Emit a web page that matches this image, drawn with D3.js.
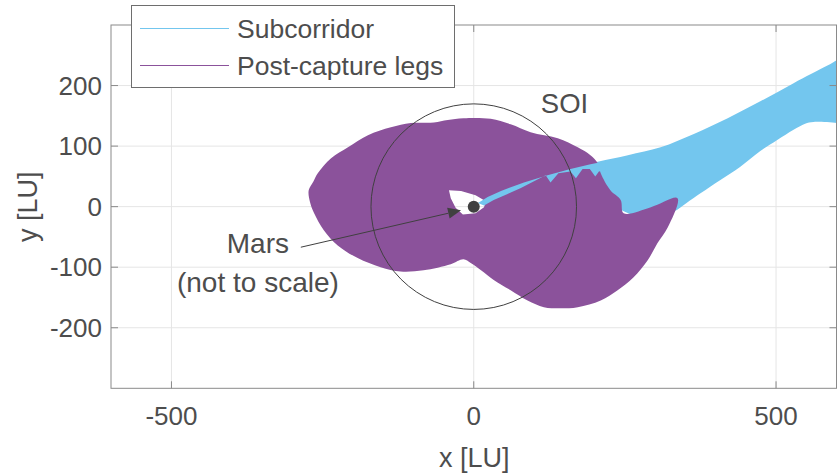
<!DOCTYPE html>
<html>
<head>
<meta charset="utf-8">
<script src="https://cdn.jsdelivr.net/npm/d3@7"></script>
<style>
  html, body { margin: 0; padding: 0; background: #fff; }
  svg { display: block; font-family: "Liberation Sans", Arial, Helvetica, sans-serif; }
</style>
</head>
<body>
<svg id="chart" width="837" height="476"></svg>
<script>
// Axis limits and tick values [LU]
const xDomain = [-600, 600];
const yDomain = [-300, 300];
const xTicks = [-500, 0, 500];
const yTicks = [-200, -100, 0, 100, 200];

// Sphere of influence radius and planet position [LU]
const soiRadius = 170;
const marsCenter = [0, 0];

// Outer envelope of the subcorridor band (upper edge outward, lower edge back)
const corridorBand = [
  [144, 57], [205, 74], [255, 85], [309, 98], [364, 120], [420, 146], [474, 174],
  [529, 204], [585, 233], [607, 245], [612, 245],
  [612, 138], [607, 138], [562, 140], [548, 137], [529, 127], [502, 110], [474, 92], [441, 66],
  [408, 44], [375, 22], [352, 6], [331, -8], [300, -16], [270, -16], [210, 11], [144, 36]
];

// Inner subcorridor strip leaving the planet
const corridorStrip = [
  [7, 6], [23, 16], [45, 26], [83, 40], [122, 52], [160, 62], [193, 70], [218, 75],
  [218, 60], [207, 58], [201, 50], [192, 62], [180, 62], [169, 47], [160, 58],
  [140, 55], [127, 40], [119, 52], [78, 31], [56, 21], [33, 11], [17, 2]
];

// Envelope of the post-capture legs
const legsOutline = [
  [-273, 27], [-265, 42], [-258, 55], [-236, 80], [-208, 98], [-175, 118], [-137, 131],
  [-104, 138], [-66, 139], [-43, 143], [-17, 146], [28, 145], [61, 136], [94, 123],
  [139, 113], [172, 98], [193, 85], [205, 72], [210, 55], [226, 27], [243, 11],
  [248, -11], [293, -1], [337, 14], [321, -34], [304, -60], [288, -88], [264, -117],
  [238, -138], [210, -155], [172, -166], [144, -168], [116, -166], [89, -155],
  [61, -138], [33, -121], [12, -105], [-5, -93], [-17, -87], [-38, -95], [-83, -105],
  [-121, -107], [-154, -100], [-192, -85], [-225, -64], [-248, -39], [-264, -11], [-271, 8]
];

// Empty region around the planet not reached by the legs
const legsHole = [
  [-41, 27], [-21, 26], [3, 19], [20, 9], [17, -1], [3, -11], [-18, -13], [-30, -2], [-38, 14]
];

// Annotation anchors [LU]
const marsArrow = [[-286, -67], [-21, -6]];
const marsLabel = { x: -357, lines: ["Mars", "(not to scale)"], baselines: [-77, -141] };
const soiLabel = { x: 111, y: 155, text: "SOI" };

// Legend entries
const legendNames = ["Subcorridor", "Post-capture legs"];
const legendColors = ["#73c6ee", "#8b529b"];

const colCorridor = "#73c6ee";
const colLegs = "#8b529b";
const colInk = "#404040";
const colText = "#4d4d4d";

const svg = d3.select("#chart");
const x = d3.scaleLinear().domain(xDomain).range([111, 836.5]);
const y = d3.scaleLinear().domain(yDomain).range([388.3, 25]);

const x0 = x.range()[0], x1 = x.range()[1];
const yb = y.range()[0], yt = y.range()[1];

svg.append("defs").append("clipPath").attr("id", "plotClip")
  .append("rect").attr("x", x0).attr("y", yt).attr("width", x1 - x0).attr("height", yb - yt);

// grid
const grid = svg.append("g").attr("stroke", "#e5e5e5").attr("stroke-width", 1);
grid.selectAll(".gx").data(xTicks).join("line")
  .attr("x1", d => x(d)).attr("x2", d => x(d)).attr("y1", yt).attr("y2", yb);
grid.selectAll(".gy").data(yTicks).join("line")
  .attr("x1", x0).attr("x2", x1).attr("y1", d => y(d)).attr("y2", d => y(d));

const plot = svg.append("g").attr("clip-path", "url(#plotClip)");
const poly = d3.line().x(d => x(d[0])).y(d => y(d[1]));
const smooth = d3.line().x(d => x(d[0])).y(d => y(d[1])).curve(d3.curveCatmullRomClosed.alpha(0.5));
const closed = pts => poly(pts) + "Z";

plot.append("path").attr("d", smooth(corridorBand)).attr("fill", colCorridor);
plot.append("path").attr("d", smooth(legsOutline) + closed(legsHole))
  .attr("fill", colLegs).attr("fill-rule", "evenodd");
plot.append("path").attr("d", closed(corridorStrip)).attr("fill", colCorridor);

// SOI circle
plot.append("circle")
  .attr("cx", x(marsCenter[0])).attr("cy", y(marsCenter[1]))
  .attr("r", x(soiRadius) - x(0))
  .attr("fill", "none").attr("stroke", colInk).attr("stroke-width", 1);

// Mars marker
plot.append("circle")
  .attr("cx", x(marsCenter[0])).attr("cy", y(marsCenter[1]))
  .attr("r", 6).attr("fill", colInk);

// annotation arrow
const [a0, a1] = marsArrow;
const ax0 = x(a0[0]), ay0 = y(a0[1]), ax1 = x(a1[0]), ay1 = y(a1[1]);
const ang = Math.atan2(ay1 - ay0, ax1 - ax0);
const headL = 13, headW = 5.5;
const bx = ax1 - headL * Math.cos(ang), by = ay1 - headL * Math.sin(ang);
svg.append("line").attr("x1", ax0).attr("y1", ay0).attr("x2", bx).attr("y2", by)
  .attr("stroke", colInk).attr("stroke-width", 1);
svg.append("path")
  .attr("d", `M${ax1},${ay1}L${bx - headW * Math.sin(ang)},${by + headW * Math.cos(ang)}L${bx + headW * Math.sin(ang)},${by - headW * Math.cos(ang)}Z`)
  .attr("fill", colInk);

// annotation texts
svg.append("g").selectAll("text").data(marsLabel.lines).join("text")
  .attr("x", x(marsLabel.x)).attr("y", (d, i) => y(marsLabel.baselines[i]))
  .attr("text-anchor", "middle").attr("font-size", 28).attr("fill", colText).text(d => d);
svg.append("text").attr("x", x(soiLabel.x)).attr("y", y(soiLabel.y))
  .attr("font-size", 27.5).attr("fill", colText).text(soiLabel.text);

// axes box
svg.append("rect").attr("x", x0).attr("y", yt).attr("width", x1 - x0).attr("height", yb - yt)
  .attr("fill", "none").attr("stroke", "#8a8a8a").attr("stroke-width", 1);

// inward ticks on all four sides
const tk = 7;
const ticks = svg.append("g").attr("stroke", "#8a8a8a").attr("stroke-width", 1);
xTicks.forEach(v => {
  ticks.append("line").attr("x1", x(v)).attr("x2", x(v)).attr("y1", yb).attr("y2", yb - tk);
  ticks.append("line").attr("x1", x(v)).attr("x2", x(v)).attr("y1", yt).attr("y2", yt + tk);
});
yTicks.forEach(v => {
  ticks.append("line").attr("x1", x0).attr("x2", x0 + tk).attr("y1", y(v)).attr("y2", y(v));
  ticks.append("line").attr("x1", x1).attr("x2", x1 - tk).attr("y1", y(v)).attr("y2", y(v));
});

// tick labels
svg.append("g").selectAll("text").data(xTicks).join("text")
  .attr("x", d => x(d)).attr("y", yb + 37).attr("text-anchor", "middle")
  .attr("font-size", 26).attr("fill", colText).text(d => String(d));
svg.append("g").selectAll("text").data(yTicks).join("text")
  .attr("x", x0 - 9).attr("y", d => y(d) + 9).attr("text-anchor", "end")
  .attr("font-size", 26).attr("fill", colText).text(d => String(d));

// axis titles
svg.append("text").attr("x", (x0 + x1) / 2 + 0.5).attr("y", 467).attr("text-anchor", "middle")
  .attr("font-size", 27).attr("fill", colText).text("x [LU]");
svg.append("text").attr("transform", `translate(37, ${y(0)}) rotate(-90)`)
  .attr("text-anchor", "middle").attr("font-size", 27).attr("fill", colText).text("y [LU]");

// legend
const lg = svg.append("g");
lg.append("rect").attr("x", 131.5).attr("y", 5.5).attr("width", 323).attr("height", 82)
  .attr("fill", "#fff").attr("stroke", "#6e6e6e").attr("stroke-width", 1);
legendNames.forEach((name, i) => {
  const cy = 28.5 + i * 37;
  lg.append("line").attr("x1", 140).attr("x2", 229).attr("y1", cy).attr("y2", cy)
    .attr("stroke", legendColors[i]).attr("stroke-width", 1.2);
  lg.append("text").attr("x", 237).attr("y", cy + 9.5)
    .attr("font-size", 26.5).attr("fill", colText).text(name);
});
</script>
</body>
</html>
